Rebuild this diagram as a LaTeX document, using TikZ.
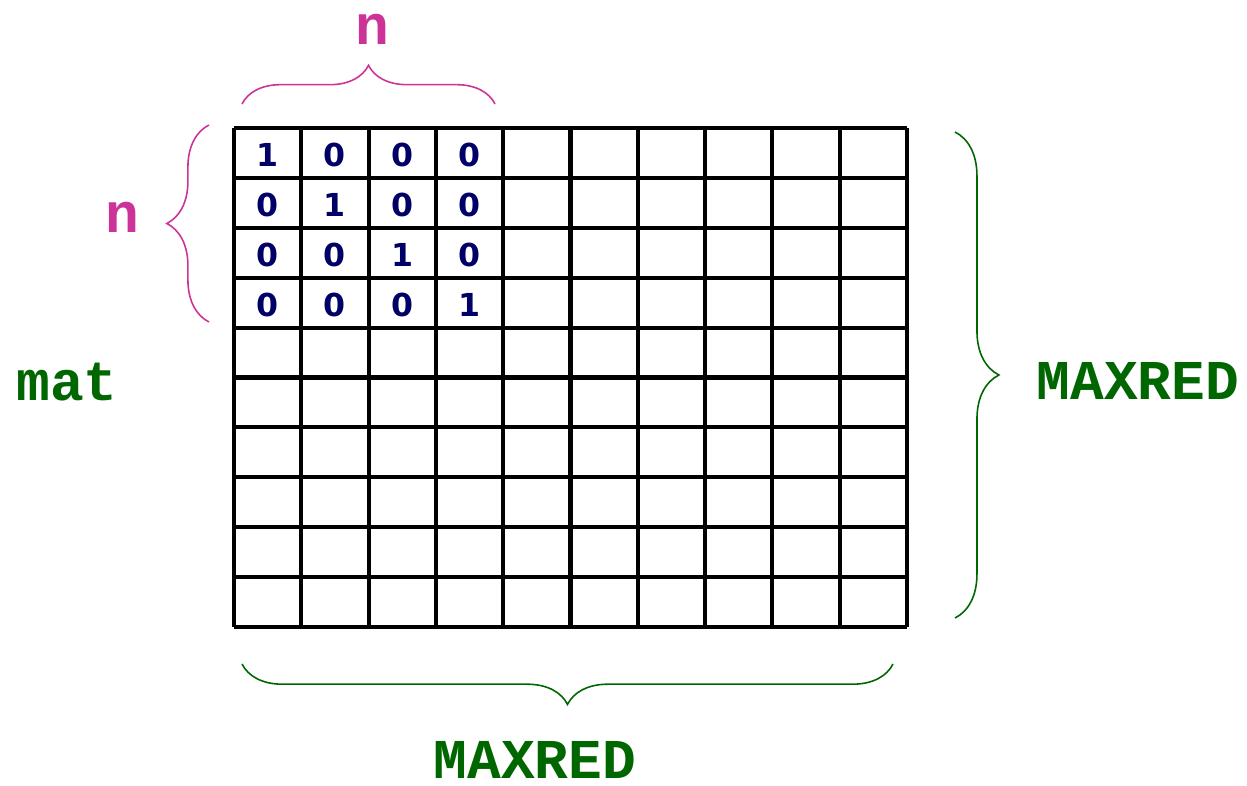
\documentclass[tikz,border=0pt]{standalone}
\usepackage{fontspec}
\setmonofont{Liberation Mono}
\newfontfamily\digitfont{DejaVu Sans}
\usetikzlibrary{decorations.pathreplacing}

\definecolor{labgreen}{RGB}{0,102,0}
\definecolor{labpink}{RGB}{204,51,153}
\definecolor{entryblue}{RGB}{0,0,102}

\tikzset{
  gridline/.style={line width=2.3pt, black},
  entry/.style={font=\digitfont\bfseries\fontsize{18}{18}\selectfont, text=entryblue, inner sep=0pt},
  biglabel/.style={font=\ttfamily\bfseries\fontsize{32}{32}\selectfont, inner sep=0pt},
  bracepink/.style={draw=labpink, line width=0.9pt, decorate, decoration={brace, amplitude=#1}},
  bracegreen/.style={draw=labgreen, line width=0.9pt, decorate, decoration={brace, amplitude=#1}}
}

\begin{document}
\begin{tikzpicture}[x=0.02cm, y=-0.02cm]

\useasboundingbox (0,0) rectangle (1247,786);

% Grid (10 x 10)
\foreach \i in {0,...,10} {
  \draw[gridline] ({234+67.3*\i},128) -- ({234+67.3*\i},627);
  \draw[gridline] (234,{128+49.9*\i}) -- (907,{128+49.9*\i});
}

% Identity block
\foreach \r in {1,...,4} {
  \foreach \c in {1,...,4} {
    \node[entry] (e\r\c) at ({234+67.3*(\c-0.5)},{128+49.9*(\r-0.5)+2})
      {\ifnum\r=\c\relax 1\else 0\fi};
  }
}

% Braces
\draw[bracepink=22pt] (242,104) -- (495,104);
\draw[bracepink=24pt] (209,322) -- (209,125);
\draw[bracegreen=25pt] (955,132) -- (955,618);
\draw[bracegreen=23pt] (893,664) -- (242,664);

% Labels
\node[biglabel, text=labpink] (ntop) at (372,29) {n};
\node[biglabel, text=labpink] (nleft) at (122,217) {n};
\node[biglabel, text=labgreen] (mat) at (67,382) {mat};
\node[biglabel, text=labgreen] (maxright) at (1138,381) {MAXRED};
\node[biglabel, text=labgreen] (maxbottom) at (535,760) {MAXRED};

\end{tikzpicture}
\end{document}
